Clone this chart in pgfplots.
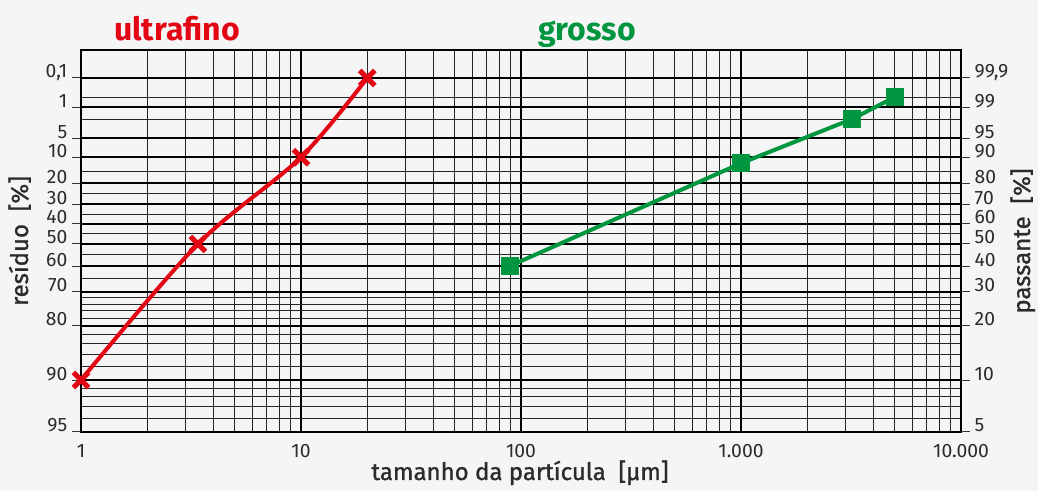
\documentclass[border=0pt]{standalone}
\usepackage{pgfplots}
\pgfplotsset{compat=1.18}
\usepackage{pgfplotstable}
\usepackage{fontspec}
\setmainfont{Fira Sans}
\newfontfamily\medfont{Fira Sans}[FakeBold=1.2]
\definecolor{bg}{HTML}{F5F5F5}
\definecolor{redc}{HTML}{E30613}
\definecolor{greenc}{HTML}{009640}
\definecolor{txt}{HTML}{2B2B2B}

% residue R [%]; y axis is the RRSB scale ln(ln(100/R))
\pgfplotstableread{
x R
1 90
3.4 50
10 10
20 0.1
}\ultrafino
\pgfplotstableread{
x R
89 60
1000 12
3200 2
5000 0.5
}\grosso

\begin{document}
\begin{tikzpicture}
\path[use as bounding box, fill=bg] (-60.75pt,-44.25pt) rectangle (717.75pt,324pt);
\begin{axis}[
  at={(0pt,0pt)}, anchor=south west,
  scale only axis, width=660pt, height=286.5pt,
  xmode=log, xmin=1, xmax=10000,
  ymin=-2.97025, ymax=2.32,
  ytick={1.93264,1.52718,1.09719,0.83403,0.47588,0.18563,-0.08742,-0.36651,-0.67173,-1.03093,-1.49994,-2.25037,-2.97020},
  tick align=outside,
  major tick length=6.75pt,
  minor tick length=0pt,
  ytick style={line width=0.75pt, black!80},
  ticklabel style={font=\fontsize{14.5}{16}\selectfont, text=txt},
  clip=false,
  xtick={1,10,100,1000,10000},
  xticklabels={1,10,100,1.000,10.000},
  xticklabel style={yshift=1pt},
  minor xtick={2,3,4,5,6,7,8,9,20,30,40,50,60,70,80,90,200,300,400,500,600,700,800,900,2000,3000,4000,5000,6000,7000,8000,9000},
  yticklabels={{0,1},1,5,10,20,30,40,50,60,70,80,90,95},
  minor ytick={1.66740,1.36405,0.64031,0.32663,0.04862,-0.22501,-0.51443,-0.84215,-1.11320,-1.20030,-1.29303,-1.39248,-1.61721,-1.74667,-1.89167,-2.05702,-2.36114,-2.48431,-2.62319,-2.78270},
  ytick pos=left,
  grid=both,
  major grid style={line width=1.6pt, black},
  minor grid style={line width=0.75pt, black!85},
  axis line style={line width=2pt, black},
  xtick style={draw=none},
  yticklabel style={anchor=base east},
]
\addplot[redc, line width=3pt, smooth, mark=x, mark size=8pt, mark options={line width=3.8pt, solid}]
  table[x=x, y expr={ln(ln(100)-ln(\thisrow{R}))}] {\ultrafino};
\addplot[greenc, line width=3pt, mark=square*, mark size=5.2pt, mark options={solid}]
  table[x=x, y expr={ln(ln(100)-ln(\thisrow{R}))}] {\grosso};
\end{axis}
\begin{axis}[
  at={(0pt,0pt)}, anchor=south west,
  scale only axis, width=660pt, height=286.5pt,
  xmode=log, xmin=1, xmax=10000,
  ymin=-2.97025, ymax=2.32,
  ytick={1.93264,1.52718,1.09719,0.83403,0.47588,0.18563,-0.08742,-0.36651,-0.67173,-1.03093,-1.49994,-2.25037,-2.97020},
  axis x line=none,
  axis y line*=right,
  y axis line style={draw=none},
  tick align=outside,
  major tick length=6.75pt,
  minor tick length=0pt,
  ytick style={line width=0.75pt, black!80},
  ticklabel style={font=\fontsize{14.5}{16}\selectfont, text=txt},
  ytick pos=right,
  yticklabels={{99,9},99,95,90,80,70,60,50,40,30,20,10,5},
  yticklabel style={anchor=base west},
]
\end{axis}
\node[text=redc, font=\fontsize{24}{28}\selectfont\bfseries, anchor=base] at (72pt,293.25pt) {ultrafino};
\node[text=greenc, font=\fontsize{24}{28}\selectfont\bfseries, anchor=base] at (379.5pt,293.25pt) {grosso};
\node[text=txt, font=\fontsize{18}{21}\selectfont\medfont, anchor=base] at (329.25pt,-36pt) {tamanho da partícula\ \ [µm]};
\node[text=txt, font=\fontsize{18}{21}\selectfont\medfont, anchor=base, rotate=90] at (-39.75pt,143.25pt) {resíduo\ \ [\%]};
\node[text=txt, font=\fontsize{18}{21}\selectfont\medfont, anchor=base, rotate=90] at (711.75pt,143.25pt) {passante\ \ [\%]};
\end{tikzpicture}
\end{document}
